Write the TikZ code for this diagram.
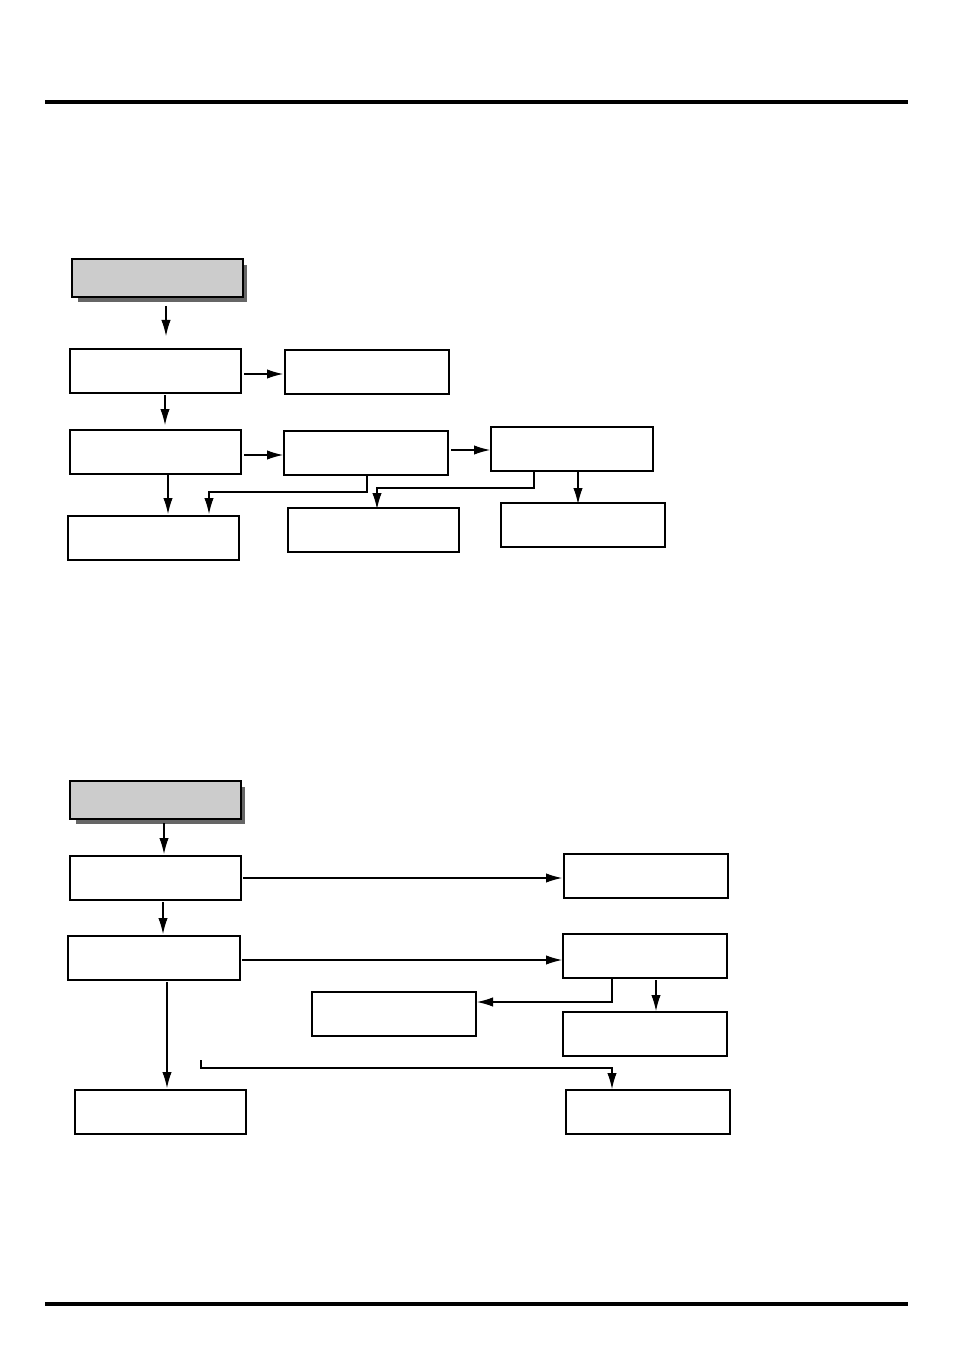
\documentclass[tikz,border=0pt]{standalone}
\usetikzlibrary{arrows.meta}
\begin{document}
\begin{tikzpicture}[x=0.75pt,y=-0.75pt,
 bx/.style={draw,line width=0.9pt,fill=white},
 hd/.style={draw,line width=0.9pt,fill=black!20},
 ar/.style={line width=0.8pt,-{Latex[length=12pt,width=7pt]}},
 ln/.style={line width=0.8pt}]
\useasboundingbox (0,0) rectangle (954,1351);
\fill[white] (0,0) rectangle (954,1351);
\draw[line width=2.6pt] (45,102) -- (908,102);
\draw[line width=2.6pt] (45,1304) -- (908,1304);
% top diagram
\fill[black!60] (78,265) rectangle (247,302);
\draw[hd] (72,259) rectangle (243,297);
\draw[bx] (70,349) rectangle (241,393);
\draw[bx] (285,350) rectangle (449,394);
\draw[bx] (70,430) rectangle (241,474);
\draw[bx] (284,431) rectangle (448,475);
\draw[bx] (491,427) rectangle (653,471);
\draw[bx] (68,516) rectangle (239,560);
\draw[bx] (288,508) rectangle (459,552);
\draw[bx] (501,503) rectangle (665,547);
\coordinate (a1) at (166,306); \coordinate (a2) at (166,336);
\draw[ar] (a1) -- (a2);
\draw[ar] (244,374) -- (283,374);
\draw[ar] (165,395) -- (165,425);
\draw[ar] (244,455) -- (283,455);
\draw[ar] (451,450) -- (490,450);
\draw[ar] (168,474) -- (168,514);
\draw[ar] (367,475) -- (367,492) -- (209,492) -- (209,514);
\draw[ar] (534,471) -- (534,488) -- (377,488) -- (377,509);
\draw[ar] (578,472) -- (578,504);
% bottom diagram
\fill[black!60] (76,787) rectangle (245,824);
\draw[hd] (70,781) rectangle (241,819);
\draw[bx] (70,856) rectangle (241,900);
\draw[bx] (564,854) rectangle (728,898);
\draw[bx] (68,936) rectangle (240,980);
\draw[bx] (563,934) rectangle (727,978);
\draw[bx] (312,992) rectangle (476,1036);
\draw[bx] (563,1012) rectangle (727,1056);
\draw[bx] (75,1090) rectangle (246,1134);
\draw[bx] (566,1090) rectangle (730,1134);
\draw[ar] (164,823) -- (164,854);
\draw[ar] (243,878) -- (562,878);
\draw[ar] (163,902) -- (163,934);
\draw[ar] (242,960) -- (562,960);
\draw[ar] (612,978) -- (612,1002) -- (477,1002);
\draw[ar] (656,980) -- (656,1011);
\draw[ar] (167,982) -- (167,1088);
\draw[ar] (201,1060) -- (201,1068) -- (612,1068) -- (612,1089);
\end{tikzpicture}
\end{document}
